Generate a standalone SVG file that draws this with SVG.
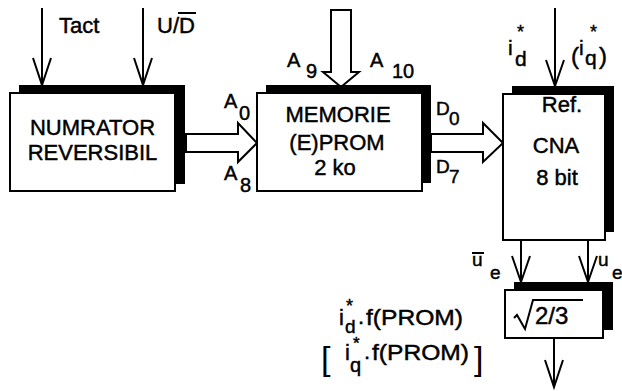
<svg xmlns="http://www.w3.org/2000/svg" width="622" height="391" viewBox="0 0 622 391">
<defs>
<style>
text{font-family:"Liberation Sans",Arial,Helvetica,sans-serif;fill:#000;stroke:#000;stroke-width:0.45px}
.shadow{fill:#000;stroke:none}
.box{fill:#fff;stroke:#000;stroke-width:2}
.wire{fill:none;stroke:#000;stroke-width:2}
.hollow{fill:#fff;stroke:#000;stroke-width:2;stroke-linejoin:miter}
.t24{font-size:24px}
.t22{font-size:22px}
.t21{font-size:21px}
.t20{font-size:20px}
.t19{font-size:19px}
.t18{font-size:18px}
.t17{font-size:17px}
.mid{text-anchor:middle}
.br{font-size:34px;stroke-width:0}
</style>
</defs>
<rect width="622" height="391" fill="#fff"/>

<g id="connectors">
  <line class="wire" x1="42" y1="8" x2="42" y2="85"/>
  <polyline class="wire" points="33,58 42,85 51,58"/>
  <line class="wire" x1="143" y1="8" x2="143" y2="85"/>
  <polyline class="wire" points="134,58 143,85 152,58"/>
  <line class="wire" x1="555" y1="8" x2="555" y2="86"/>
  <polyline class="wire" points="546,60 555,86 564,60"/>
  <line class="wire" x1="521" y1="241" x2="521" y2="282"/>
  <polyline class="wire" points="512,256 521,282 530,256"/>
  <line class="wire" x1="588" y1="241" x2="588" y2="282"/>
  <polyline class="wire" points="579,256 588,282 597,256"/>
  <line class="wire" x1="554" y1="339" x2="554" y2="387"/>
  <polyline class="wire" points="545,360 554,387 563,360"/>
  <polygon class="hollow" points="186,134 238,134 238,123 257,143 238,162 238,152 186,152"/>
  <polygon class="hollow" points="431,134 483,134 483,123 503,143 483,162 483,152 431,152"/>
  <polygon class="hollow" points="331,10 351,10 351,72 359,72 341,87 323,72 331,72"/>
</g>

<g id="numrator">
  <rect class="shadow" x="19" y="85" width="166" height="99"/>
  <rect class="box" x="10" y="93" width="165" height="98"/>
  <text class="t22 mid" x="92.5" y="135">NUMRATOR</text>
  <text class="t22 mid" x="92.5" y="160">REVERSIBIL</text>
</g>

<g id="memorie">
  <rect class="shadow" x="266" y="85" width="165" height="98"/>
  <rect class="box" x="257" y="93" width="165" height="98"/>
  <text class="t22 mid" x="338" y="122">MEMORIE</text>
  <text class="t22 mid" x="337" y="150">(E)PROM</text>
  <text class="t22 mid" x="335" y="175">2 ko</text>
</g>

<g id="cna">
  <rect class="shadow" x="512" y="86" width="102" height="146"/>
  <rect class="box" x="503" y="94" width="102" height="146"/>
  <text class="t22 mid" x="562" y="112">Ref.</text>
  <text class="t22 mid" x="556" y="153">CNA</text>
  <text class="t22 mid" x="557" y="185">8 bit</text>
</g>

<g id="sqrt-block">
  <rect class="shadow" x="514" y="282" width="99" height="48"/>
  <rect class="box" x="505" y="290" width="98" height="48"/>
  <polyline class="wire" points="514,318 517,315 525,329 533,300 583,300"/>
  <text class="t24" x="535" y="324">2/3</text>
</g>

<g id="labels">
  <text class="t22" x="59" y="33">Tact</text>
  <text class="t22" x="157" y="33">U/D</text>
  <line class="wire" x1="178" y1="13" x2="196" y2="13"/>

  <text class="t20" x="287" y="67">A</text>
  <text class="t20" x="306" y="78">9</text>
  <text class="t20" x="370" y="67">A</text>
  <text class="t20" x="392" y="78">10</text>

  <text class="t20" x="224" y="108">A</text>
  <text class="t20" x="239" y="120">0</text>
  <text class="t20" x="224" y="180">A</text>
  <text class="t20" x="240" y="192">8</text>

  <text class="t19" x="436" y="115">D</text>
  <text class="t19" x="449" y="125">0</text>
  <text class="t19" x="436" y="173">D</text>
  <text class="t19" x="449" y="183">7</text>

  <text class="t21" x="508" y="55">i</text>
  <text class="t18" x="517" y="38">*</text>
  <text class="t21" x="515" y="66">d</text>

  <text class="t24" x="571" y="64">(</text>
  <text class="t21" x="579" y="55">i</text>
  <text class="t18" x="590" y="38">*</text>
  <text class="t21" x="585" y="65">q</text>
  <text class="t24" x="599" y="64">)</text>

  <line class="wire" x1="472" y1="253" x2="484" y2="253"/>
  <text class="t19" x="472" y="266">u</text>
  <text class="t19" x="490" y="279">e</text>
  <text class="t19" x="598" y="266">u</text>
  <text class="t19" x="612" y="279">e</text>

  <text class="t22" x="339" y="325">i</text>
  <text class="t18" x="346" y="312">*</text>
  <text class="t19" x="345" y="333">d</text>
  <text class="t22" x="358" y="324">.</text>
  <text class="t22" x="366" y="325" textLength="97" lengthAdjust="spacingAndGlyphs">f(PROM)</text>

  <text class="br" x="321" y="370">[</text>
  <text class="t22" x="345" y="360">i</text>
  <text class="t17" x="353" y="349">*</text>
  <text class="t20" x="350" y="372">q</text>
  <text class="t22" x="364" y="359">.</text>
  <text class="t22" x="372" y="360" textLength="97" lengthAdjust="spacingAndGlyphs">f(PROM)</text>
  <text class="br" x="474" y="370">]</text>
</g>
</svg>
